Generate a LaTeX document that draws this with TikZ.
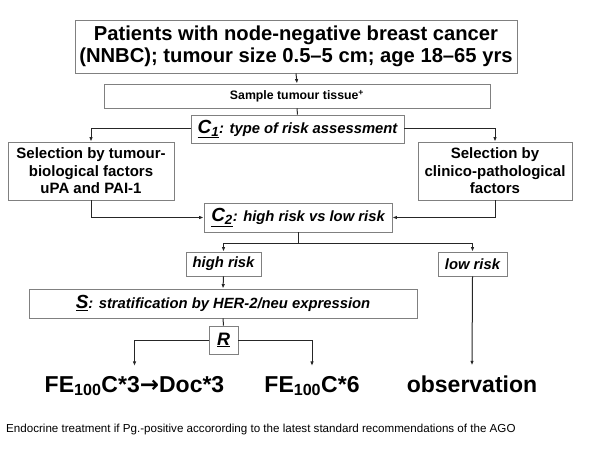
\documentclass[tikz,border=0pt]{standalone}
\usepackage{fontspec}
\setmainfont{Liberation Sans}
\newfontfamily\arrowfont{DejaVu Sans}
\usetikzlibrary{arrows.meta}
\tikzset{
  box/.style={draw=gray, line width=0.8bp, inner sep=0pt, align=center,
    font=\bfseries\fontsize{15bp}{17.5bp}\selectfont},
  ital/.style={box, font=\bfseries\itshape\fontsize{14.8bp}{17bp}\selectfont},
  result/.style={inner sep=0pt, outer ysep=10bp, anchor=base,
    font=\bfseries\fontsize{23bp}{23bp}\selectfont},
  link/.style={line width=1bp, black!85},
  arr/.style={link, -{Latex[length=4.5bp,width=3.5bp]}},
}
\newcommand{\bigC}[2]{{\fontsize{19bp}{19bp}\selectfont\underline{#1\textsubscript{#2}}}}
\begin{document}
\begin{tikzpicture}[x=1bp,y=-1bp]
  \useasboundingbox (0,0) rectangle (600,450);
  % boxes, placed at pixel centres
  \node[box, minimum width=442bp, minimum height=53bp,
    font=\bfseries\fontsize{20.2bp}{21.5bp}\selectfont] (patients) at (296,46.5)
    {Patients with node-negative breast cancer\\(NNBC); tumour size 0.5–5 cm; age 18–65 yrs};
  \node[box, minimum width=386bp, minimum height=24bp,
    font=\bfseries\fontsize{12.3bp}{12bp}\selectfont] (sample) at (297,96)
    {Sample tumour tissue\textsuperscript{+}};
  \node[ital, minimum width=213bp, minimum height=28bp] (c1) at (297.5,129)
    {\bigC{C}{1}: type of risk assessment};
  \node[box, minimum width=166bp, minimum height=58bp] (tumbio) at (91,171)
    {Selection by tumour-\\biological factors\\uPA and PAI-1};
  \node[box, minimum width=154bp, minimum height=58bp] (clinpath) at (495,171)
    {Selection by\\clinico-pathological\\factors};
  \node[ital, minimum width=188bp, minimum height=29bp] (c2) at (298,217.5)
    {\bigC{C}{2}: high risk vs low risk};
  \node[ital, minimum width=75bp, minimum height=24bp] (high) at (223.5,264) {high risk};
  \node[ital, minimum width=69bp, minimum height=24bp] (low) at (472.5,264) {low risk};
  \node[ital, minimum width=388bp, minimum height=29bp] (strat) at (223,303.5)
    {{\fontsize{19bp}{19bp}\selectfont\underline{S}}: stratification by HER-2/neu expression};
  \node[ital, minimum width=29bp, minimum height=28bp,
    font=\bfseries\itshape\fontsize{18bp}{18bp}\selectfont] (rand) at (223.5,340) {\underline{R}};
  % treatment arms
  \node[result] (armdoc) at (134.5,392) {FE\textsubscript{100}C*3{\arrowfont→}Doc*3};
  \node[result] (armfec) at (312,392) {FE\textsubscript{100}C*6};
  \node[result] (obs) at (472,392) {observation};
  \node[anchor=base west, inner sep=0pt, font=\fontsize{11.6bp}{11.6bp}\selectfont] (note) at (6,432)
    {Endocrine treatment if Pg.-positive accorording to the latest standard recommendations of the AGO};
  % connectors
  \draw[arr] (patients.south) -- (sample.north);
  \draw[link] (sample.south) -- (c1.north);
  \draw[arr] (c1.west) -| (tumbio.north);
  \draw[arr] (c1.east) -| (clinpath.north);
  \draw[arr] (tumbio.south) |- (c2.west);
  \draw[arr] (clinpath.south) |- (c2.east);
  \draw[link] (c2.south) -- ++(0,11) coordinate (split);
  \draw[arr] (split) -| (high.north);
  \draw[arr] (split) -| (low.north);
  \draw[arr] (high.south) -- (strat.north);
  \draw[link] (strat.south) -- (rand.north);
  \draw[arr] (rand.west) -| (armdoc.north);
  \draw[arr] (rand.east) -| (armfec.north);
  \draw[arr] (low.south) -- (obs.north);
\end{tikzpicture}
\end{document}
